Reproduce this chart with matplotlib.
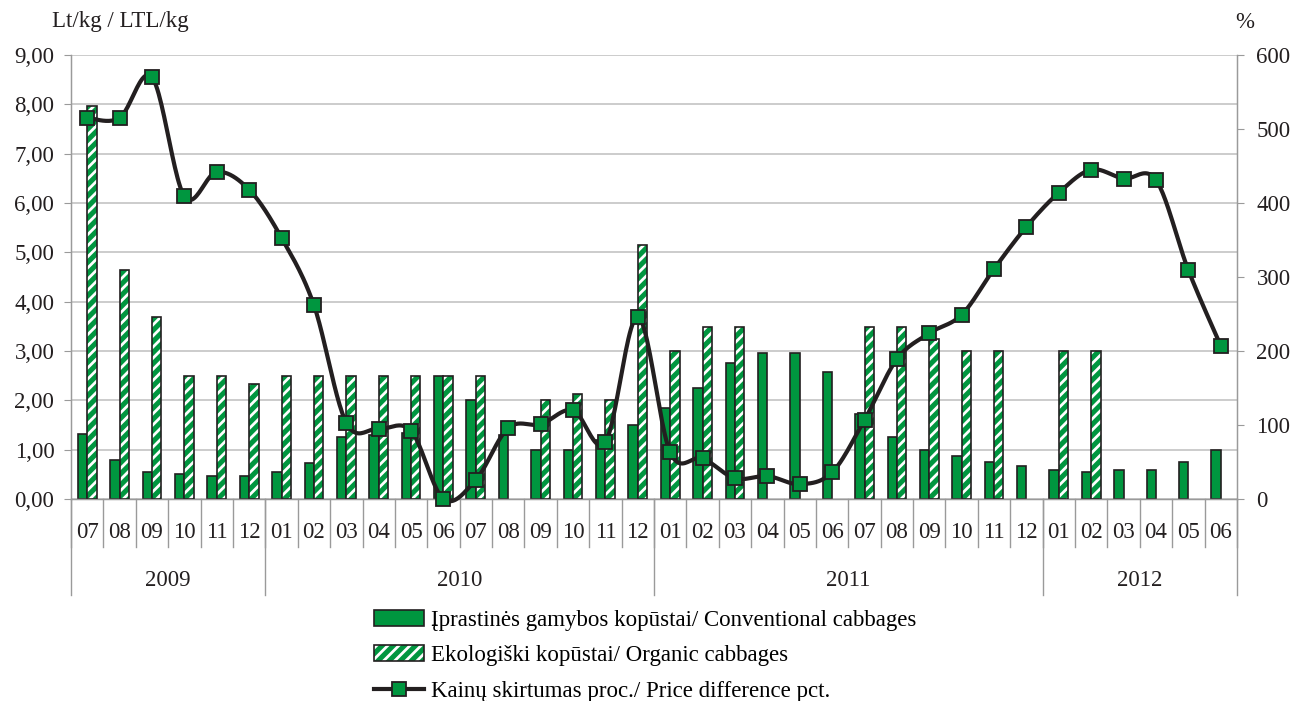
import numpy as np
import matplotlib
matplotlib.use("Agg")
import matplotlib.pyplot as plt
from matplotlib.patches import Patch
from matplotlib.lines import Line2D
from matplotlib.legend_handler import HandlerTuple

plt.rcParams['font.family'] = ['Liberation Serif', 'DejaVu Serif']
plt.rcParams['hatch.linewidth'] = 2.0

months = ["07", "08", "09", "10", "11", "12",
          "01", "02", "03", "04", "05", "06", "07", "08", "09", "10", "11", "12",
          "01", "02", "03", "04", "05", "06", "07", "08", "09", "10", "11", "12",
          "01", "02", "03", "04", "05", "06"]
years = ["2009", "2010", "2011", "2012"]
year_counts = [6, 12, 12, 6]

conventional = [1.32, 0.80, 0.55, 0.50, 0.47, 0.47,
                0.55, 0.72, 1.25, 1.30, 1.33, 2.50, 2.00, 1.30, 1.00, 1.00, 1.20, 1.50,
                1.85, 2.25, 2.75, 2.95, 2.95, 2.58, 1.72, 1.25, 1.00, 0.88, 0.75, 0.67,
                0.58, 0.55, 0.58, 0.58, 0.75, 1.00]
organic = [7.97, 4.65, 3.68, 2.50, 2.50, 2.33,
           2.50, 2.50, 2.50, 2.50, 2.50, 2.50, 2.50, np.nan, 2.00, 2.13, 2.00, 5.15,
           3.00, 3.48, 3.48, np.nan, np.nan, np.nan, 3.48, 3.48, 3.25, 3.00, 3.00, np.nan,
           3.00, 3.00, np.nan, np.nan, np.nan, np.nan]
price_diff = [515, 515, 570, 409, 442, 418,
              353, 262, 103, 95, 92, 0, 26, 96, 101, 120, 77, 246,
              63, 55, 28, 31, 20, 36, 107, 189, 224, 249, 311, 368,
              414, 445, 433, 431, 309, 207]

GREEN = "#00963F"
DARK = "#231F20"
GRID = "#C8C8C8"
AXC = "#9A9A9A"
FS = 16.5

W, H = 1293, 701
fig = plt.figure(figsize=(W / 100, H / 100), dpi=100)
L, R, T, B = 71, 1237, 55, 499
ax = fig.add_axes([L / W, 1 - B / H, (R - L) / W, (B - T) / H])

n = len(months)
x = np.arange(n)
bw = 0.29
ax.bar(x - bw / 2, conventional, width=bw, color=GREEN, edgecolor=DARK, linewidth=1.2, zorder=2)
org = np.array(organic, dtype=float)
mask = ~np.isnan(org)
ax.bar(x[mask] + bw / 2, org[mask], width=bw, color=GREEN, edgecolor="white",
       hatch="///", linewidth=0, zorder=2)
ax.bar(x[mask] + bw / 2, org[mask], width=bw, fill=False, edgecolor=DARK,
       linewidth=1.2, zorder=3)

ax.set_xlim(-0.5, n - 0.5)
ax.set_ylim(0, 9)
ax.set_yticks(np.arange(0, 10, 1))
ax.set_yticklabels([f"{v:.2f}".replace(".", ",") for v in np.arange(0, 10, 1)], fontsize=FS)
ax.yaxis.grid(True, color=GRID, linewidth=1.3, zorder=0)
ax.set_axisbelow(True)
ax.set_xticks([])
ax.spines["top"].set_visible(False)
for s in ["left", "right", "bottom"]:
    ax.spines[s].set_color(AXC)
    ax.spines[s].set_linewidth(1.0)
ax.tick_params(axis="y", length=5, color=AXC, pad=7, colors=DARK)

# secondary axis
ax2 = ax.twinx()
ax2.set_ylim(0, 600)
ax2.set_yticks(np.arange(0, 700, 100))
ax2.set_yticklabels([str(v) for v in range(0, 700, 100)], fontsize=FS)
ax2.tick_params(axis="y", length=5, color=AXC, pad=9, labelcolor=DARK)
ax2.spines["top"].set_visible(False)
for s in ["left", "right", "bottom"]:
    ax2.spines[s].set_color(AXC)

# smoothed line (Bezier / Catmull-Rom through the data points)
px = x.astype(float)
py = np.array(price_diff, dtype=float)
P = np.column_stack([px, py])
Pext = np.vstack([P[0], P, P[-1]])
curve = []
ts = np.linspace(0, 1, 25)
for i in range(1, len(Pext) - 2):
    p0, p1, p2, p3 = Pext[i - 1], Pext[i], Pext[i + 1], Pext[i + 2]
    c1 = p1 + (p2 - p0) / 6
    c2 = p2 - (p3 - p1) / 6
    for t in ts[:-1] if i < len(Pext) - 3 else ts:
        pt = ((1 - t) ** 3) * p1 + 3 * ((1 - t) ** 2) * t * c1 + 3 * (1 - t) * t * t * c2 + t ** 3 * p2
        curve.append(pt)
curve = np.array(curve)
ax2.plot(curve[:, 0], curve[:, 1], color=DARK, linewidth=3.0, zorder=4, clip_on=False,
         solid_capstyle="round")
ax2.plot(px, py, linestyle="none", marker="s", markersize=9.5, markerfacecolor=GREEN,
         markeredgecolor=DARK, markeredgewidth=1.3, zorder=5, clip_on=False)

# multi-level category axis
tr = ax.get_xaxis_transform()
hpx = B - T
m_sep = -(547 - B) / hpx
y_sep = -(595 - B) / hpx
for b in np.arange(-0.5, n, 1.0):
    ax.plot([b, b], [0, m_sep], transform=tr, color=AXC, linewidth=1.0, clip_on=False)
for i, m in enumerate(months):
    ax.text(i, -(532 - B) / hpx, m, transform=tr, ha="center", va="center", fontsize=FS,
            color=DARK)
start = 0
bounds = [-0.5]
for yr, c in zip(years, year_counts):
    ax.text(start + (c - 1) / 2, -(580 - B) / hpx, yr, transform=tr, ha="center",
            va="center", fontsize=FS, color=DARK)
    start += c
    bounds.append(start - 0.5)
for b in bounds:
    ax.plot([b, b], [0, y_sep], transform=tr, color=AXC, linewidth=1.0, clip_on=False)

# axis titles
fig.text(52 / W, 1 - 21 / H, "Lt/kg / LTL/kg", ha="left", va="center", fontsize=FS, color=DARK)
fig.text(1245 / W, 1 - 23 / H, "%", ha="center", va="center", fontsize=FS, color=DARK)

# legend
h1 = Patch(facecolor=GREEN, edgecolor=DARK, linewidth=1.2)
h2 = (Patch(facecolor=GREEN, edgecolor="white", hatch="///", linewidth=0),
      Patch(fill=False, edgecolor=DARK, linewidth=1.2))
h3 = Line2D([], [], color=DARK, linewidth=3.0, marker="s", markersize=9.5,
            markerfacecolor=GREEN, markeredgecolor=DARK, markeredgewidth=1.3)
fig.legend([h1, h2, h3],
           ["Įprastinės gamybos kopūstai/ Conventional cabbages",
            "Ekologiški kopūstai/ Organic cabbages",
            "Kainų skirtumas proc./ Price difference pct."],
           handler_map={tuple: HandlerTuple(ndivide=1, pad=0)},
           loc="upper left", bbox_to_anchor=(374 / W, 1 - 610 / H),
           frameon=False, fontsize=FS, handlelength=2.2, handletextpad=0.3,
           labelspacing=0.62, borderpad=0, borderaxespad=0)

fig.savefig("out.png", dpi=100)
